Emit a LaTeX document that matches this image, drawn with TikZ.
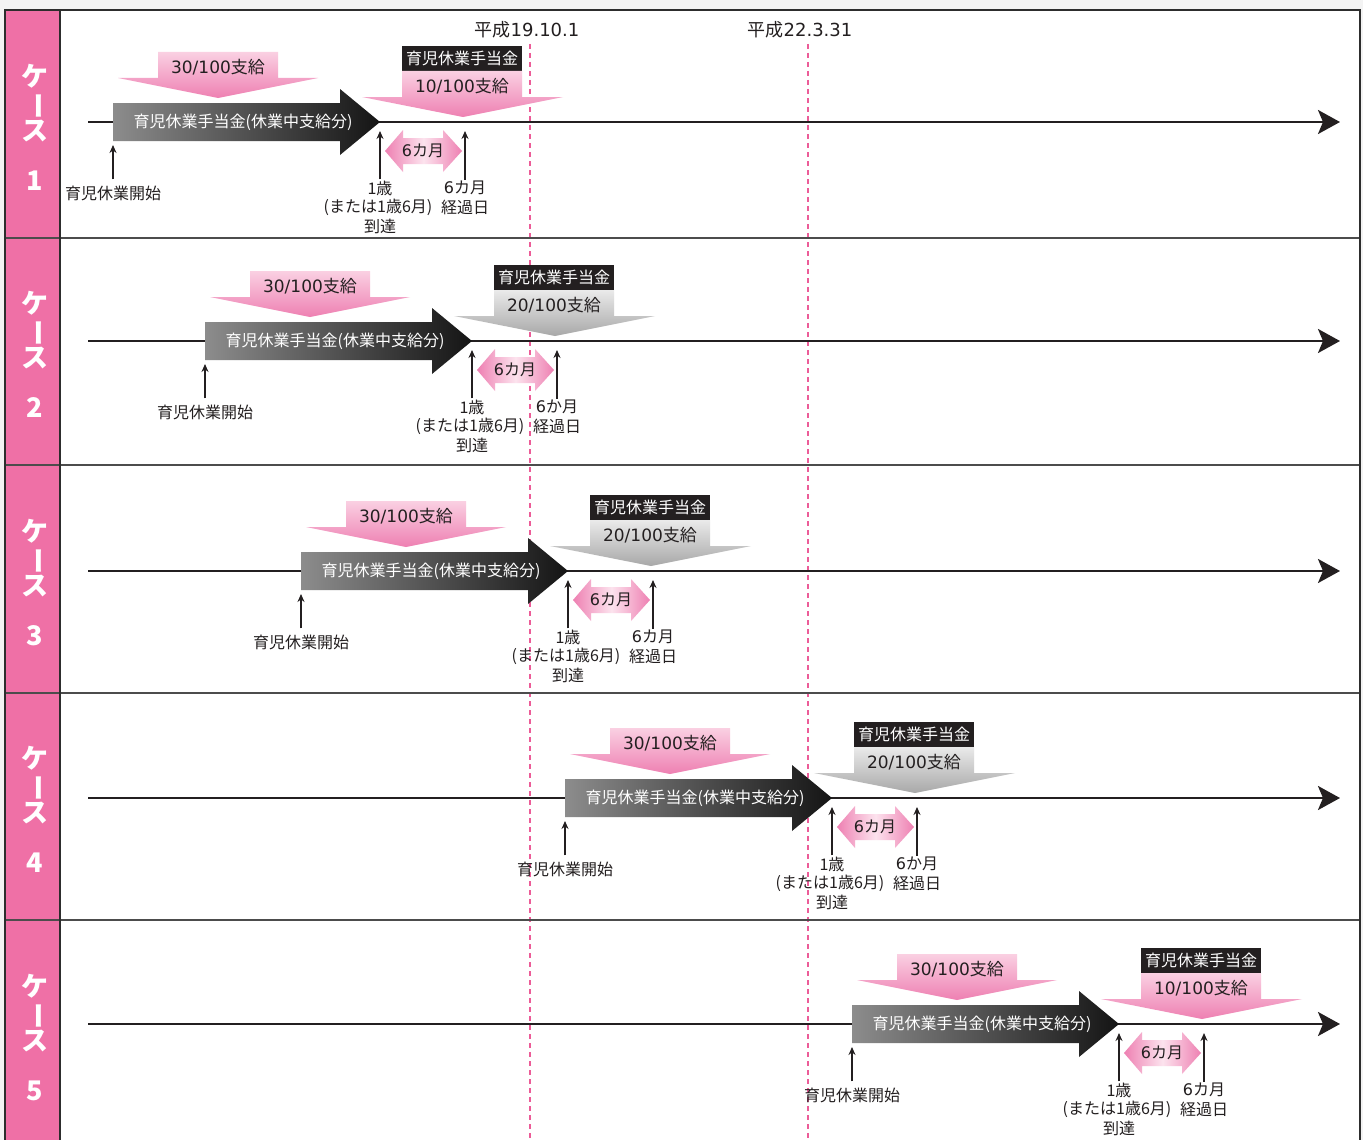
\documentclass[tikz,border=0pt]{standalone}
\usepackage{fontspec}
\setmainfont{Noto Sans CJK JP}
\newfontfamily\digitfont{DejaVu Sans}
\usepackage{tikz}
\usetikzlibrary{arrows.meta}
\definecolor{casepink}{RGB}{239,112,166}
\definecolor{lightpink}{RGB}{250,208,226}
\definecolor{deeppink}{RGB}{238,128,178}
\definecolor{lightgrey}{RGB}{234,234,234}
\definecolor{deepgrey}{RGB}{168,168,168}
\definecolor{dashpink}{RGB}{236,92,152}
\definecolor{framegray}{RGB}{45,45,45}
\definecolor{bggray}{RGB}{243,243,243}
\definecolor{inkblack}{RGB}{35,31,32}

\tikzset{
  axisline/.style={line width=2.6pt, draw=inkblack, -{Stealth[length=22pt,width=24pt,inset=5pt]}},
  uparrow/.style={line width=1.3pt, draw=inkblack, -{Stealth[length=8pt,width=7pt]}},
  pinkdown/.style={top color=lightpink, bottom color=deeppink},
  graydown/.style={top color=lightgrey, bottom color=deepgrey},
  payarrow/.style={left color=black!45, right color=black!92},
  monarrow/.style={left color=deeppink, right color=deeppink, middle color=lightpink!60},
  lbl/.style={font=\fontsize{16}{16}\selectfont, text=inkblack, inner sep=1pt},
  ratelbl/.style={font=\fontsize{17}{17}\selectfont, text=inkblack, inner sep=1pt},
  paylbl/.style={font=\fontsize{16}{16}\selectfont, text=white, inner sep=1pt},
  tagbox/.style={fill=inkblack, text=white, font=\fontsize{16}{16}\selectfont,
    minimum width=120pt, minimum height=25pt, inner sep=0pt},
  datelbl/.style={font=\fontsize{18}{18}\selectfont, text=inkblack, inner sep=1pt},
  caselbl/.style={font=\bfseries\fontsize{27}{27}\selectfont, text=white, inner sep=0pt},
  datedash/.style={draw=dashpink, line width=1.2pt, dash pattern=on 5pt off 4pt},
  frameline/.style={draw=framegray, line width=2pt},
  rowline/.style={draw=framegray!85, line width=1.4pt},
}

\begin{document}
\begin{tikzpicture}[x=1pt,y=-1pt]
\useasboundingbox (0,0) rectangle (1363,1140);
\fill[bggray] (0,0) rectangle (1363,1140);
\fill[white] (5,10) rectangle (1360,1150);
\fill[casepink] (5,10) rectangle (60,1150);

% dates
\node[datelbl] (date1) at (527,30) {平成{\digitfont 19.10.1}};
\node[datelbl] (date2) at (800,30) {平成{\digitfont 22.3.31}};
\draw[datedash] (530,44) -- (530,1150);
\draw[datedash] (808,44) -- (808,1150);

\foreach \row/\dx/\dy/\cy/\sty/\rate/\mon in
  {1/0/0/130/pinkdown/10/カ, 2/92/219/357/graydown/20/か, 3/188/449/585/graydown/20/カ,
   4/452/676/812/graydown/20/か, 5/739/902/1040/pinkdown/10/カ}{
  % case label
  \node[caselbl] (ke\row) at (35,\cy-54) {ケ};
  \node[caselbl, rotate=-90] (bar\row) at (35,\cy-24) {ー};
  \node[caselbl] (su\row) at (35,\cy+1) {ス};
  \node[caselbl] (num\row) at (35,\cy+51) {\row};
  % time line
  \coordinate (axs\row) at (88,122+\dy);
  \coordinate (axe\row) at (1340,122+\dy);
  \draw[axisline] (axs\row) -- (axe\row);
  \begin{scope}[shift={(\dx,\dy)}]
    \path[payarrow] (113,103) -- (340,103) -- (340,89) -- (380,122) -- (340,155) -- (340,141) -- (113,141) -- cycle;
    \node[paylbl] (pay\row) at (243,122) {育児休業手当金(休業中支給分)};
    \path[pinkdown] (158,52) -- (278,52) -- (278,78) -- (318,78) -- (218,98) -- (118,78) -- (158,78) -- cycle;
    \node[ratelbl] (first\row) at (218,67) {{\digitfont 30/100}支給};
    \node[tagbox] (tag\row) at (462,58.5) {育児休業手当金};
    \path[\sty] (402,71) -- (522,71) -- (522,97) -- (563,97) -- (463,117) -- (362,97) -- (402,97) -- cycle;
    \node[ratelbl] (second\row) at (462,86) {{\digitfont\rate/100}支給};
    \path[monarrow] (385,151) -- (403,130) -- (403,138) -- (443,138) -- (443,130) -- (462,151)
      -- (443,172) -- (443,164) -- (403,164) -- (403,172) -- cycle;
    \node[lbl] (six\row) at (423,151) {{\digitfont 6}カ月};
    % labels under the line
    \node[lbl] (begin\row) at (113,193) {育児休業開始};
    \node[lbl] (age\row) at (380,188) {1歳};
    \node[lbl] (or\row) at (378,207) {(または1歳6月)};
    \node[lbl] (reach\row) at (380,226) {到達};
    \node[lbl] (half\row) at (465,188) {{\digitfont 6}\mon 月};
    \node[lbl] (pass\row) at (465,207) {経過日};
    \coordinate (bt\row) at (113,145);
    \coordinate (at\row) at (380,131);
    \coordinate (ht\row) at (465,131);
    \draw[uparrow] ([yshift=5pt]begin\row.north) -- (bt\row);
    \draw[uparrow] (age\row.north) -- (at\row);
    \draw[uparrow] (half\row.north) -- (ht\row);
  \end{scope}
}

% frame
\foreach \yy in {238,465,693,920}
  \draw[rowline] (5,\yy) -- (1360,\yy);
\draw[frameline] (5,1150) -- (5,10) -- (1360,10) -- (1360,1150);
\draw[frameline] (60,10) -- (60,1150);
\end{tikzpicture}
\end{document}
